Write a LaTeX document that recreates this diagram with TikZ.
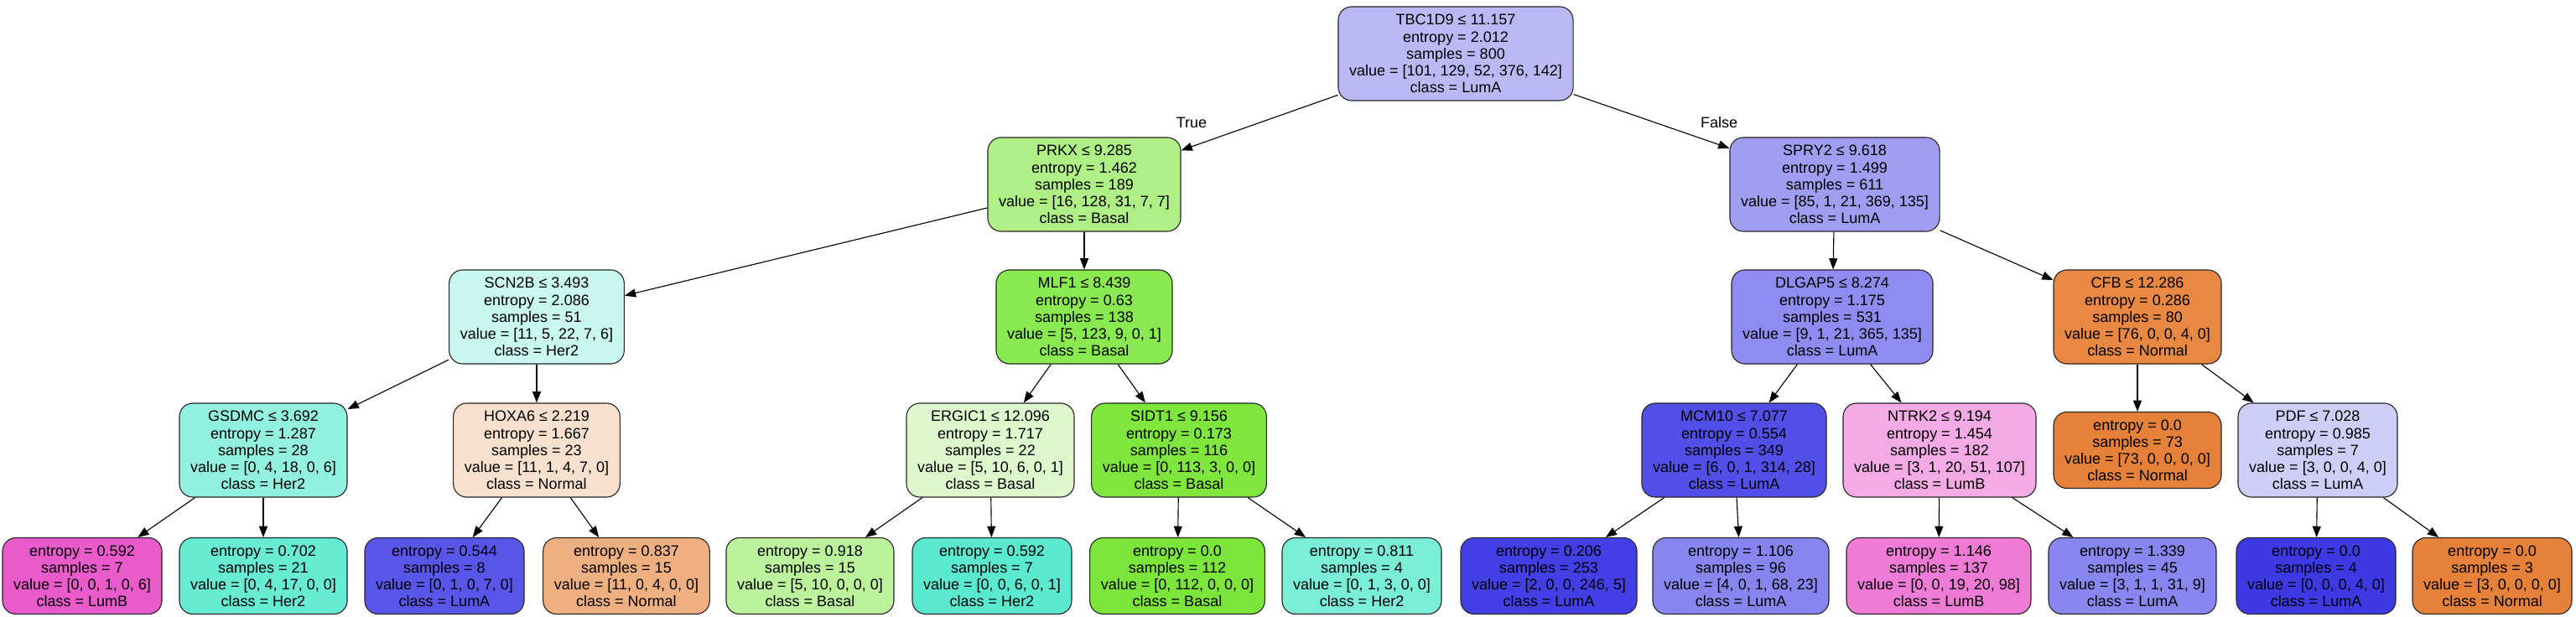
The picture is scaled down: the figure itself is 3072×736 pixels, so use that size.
\documentclass[tikz,border=0pt]{standalone}
\usepackage{fontspec}
\setmainfont{Liberation Sans}
\usetikzlibrary{arrows.meta}

% class colours, faded by purity
\definecolor{rootc}{HTML}{BAB9F6}
\definecolor{prkxc}{HTML}{AEEF86}
\definecolor{spryc}{HTML}{9F9EF2}
\definecolor{scnc}{HTML}{C9F8EF}
\definecolor{mlfc}{HTML}{8AE850}
\definecolor{dlgc}{HTML}{8E8CF0}
\definecolor{cfbc}{HTML}{E88843}
\definecolor{gsdc}{HTML}{93F1DF}
\definecolor{hoxc}{HTML}{F8E0CE}
\definecolor{ergc}{HTML}{DEF8CE}
\definecolor{sidc}{HTML}{7FE63E}
\definecolor{mcmc}{HTML}{514FE8}
\definecolor{ntrc}{HTML}{F4AAE4}
\definecolor{normc}{HTML}{E58139}
\definecolor{pdfc}{HTML}{CECEF8}
\definecolor{lumbc}{HTML}{E95ACB}
\definecolor{hera}{HTML}{68EBD3}
\definecolor{lumaa}{HTML}{5855E9}
\definecolor{norma}{HTML}{EEAF81}
\definecolor{basa}{HTML}{BDF29C}
\definecolor{herb}{HTML}{5AE9CF}
\definecolor{basb}{HTML}{7BE539}
\definecolor{herc}{HTML}{7BEED8}
\definecolor{lumab}{HTML}{423FE6}
\definecolor{lumac}{HTML}{8785EF}
\definecolor{lumbb}{HTML}{EE7BD5}
\definecolor{lumad}{HTML}{8886EF}
\definecolor{lumae}{HTML}{3C39E5}

\tikzstyle{split}=[draw=black!85,line width=.8pt,rounded corners=.4cm,align=center,
  inner xsep=.33cm,minimum height=2.8cm]
\tikzstyle{leaf}=[split,minimum height=2.275cm]
\tikzstyle{branch}=[-{Triangle[length=.33cm,width=.25cm]},line width=.8pt,black]

\begin{document}
\begin{tikzpicture}[x=.025cm, y=-.025cm,font=\fontsize{12.8}{14.3}\selectfont]
	\useasboundingbox (0,0) rectangle (3072,736);

	% splits
	\node[split,fill=rootc] (root) at (1736,64) {TBC1D9 ≤ 11.157\\entropy = 2.012\\samples = 800\\value = [101, 129, 52, 376, 142]\\class = LumA};

	\node[split,fill=prkxc] (prkx) at (1293,220) {PRKX ≤ 9.285\\entropy = 1.462\\samples = 189\\value = [16, 128, 31, 7, 7]\\class = Basal};
	\node[split,fill=spryc] (spry) at (2188,220) {SPRY2 ≤ 9.618\\entropy = 1.499\\samples = 611\\value = [85, 1, 21, 369, 135]\\class = LumA};

	\node[split,fill=scnc] (scn) at (640,378) {SCN2B ≤ 3.493\\entropy = 2.086\\samples = 51\\value = [11, 5, 22, 7, 6]\\class = Her2};
	\node[split,fill=mlfc] (mlf) at (1293,378) {MLF1 ≤ 8.439\\entropy = 0.63\\samples = 138\\value = [5, 123, 9, 0, 1]\\class = Basal};
	\node[split,fill=dlgc] (dlg) at (2185,378) {DLGAP5 ≤ 8.274\\entropy = 1.175\\samples = 531\\value = [9, 1, 21, 365, 135]\\class = LumA};
	\node[split,fill=cfbc] (cfb) at (2549,378) {CFB ≤ 12.286\\entropy = 0.286\\samples = 80\\value = [76, 0, 0, 4, 0]\\class = Normal};

	\node[split,fill=gsdc] (gsd) at (314,537) {GSDMC ≤ 3.692\\entropy = 1.287\\samples = 28\\value = [0, 4, 18, 0, 6]\\class = Her2};
	\node[split,fill=hoxc] (hox) at (640,537) {HOXA6 ≤ 2.219\\entropy = 1.667\\samples = 23\\value = [11, 1, 4, 7, 0]\\class = Normal};
	\node[split,fill=ergc] (erg) at (1181,537) {ERGIC1 ≤ 12.096\\entropy = 1.717\\samples = 22\\value = [5, 10, 6, 0, 1]\\class = Basal};
	\node[split,fill=sidc] (sid) at (1406,537) {SIDT1 ≤ 9.156\\entropy = 0.173\\samples = 116\\value = [0, 113, 3, 0, 0]\\class = Basal};
	\node[split,fill=mcmc] (mcm) at (2068,537) {MCM10 ≤ 7.077\\entropy = 0.554\\samples = 349\\value = [6, 0, 1, 314, 28]\\class = LumA};
	\node[split,fill=ntrc] (ntr) at (2313,537) {NTRK2 ≤ 9.194\\entropy = 1.454\\samples = 182\\value = [3, 1, 20, 51, 107]\\class = LumB};
	\node[leaf,fill=normc] (cfbl) at (2549,537) {entropy = 0.0\\samples = 73\\value = [73, 0, 0, 0, 0]\\class = Normal};
	\node[split,fill=pdfc] (pdf) at (2764,537) {PDF ≤ 7.028\\entropy = 0.985\\samples = 7\\value = [3, 0, 0, 4, 0]\\class = LumA};

	% leaves
	\node[leaf,fill=lumbc] (l1) at (98,687) {entropy = 0.592\\samples = 7\\value = [0, 0, 1, 0, 6]\\class = LumB};
	\node[leaf,fill=hera] (l2) at (314,687) {entropy = 0.702\\samples = 21\\value = [0, 4, 17, 0, 0]\\class = Her2};
	\node[leaf,fill=lumaa] (l3) at (530,687) {entropy = 0.544\\samples = 8\\value = [0, 1, 0, 7, 0]\\class = LumA};
	\node[leaf,fill=norma] (l4) at (747,687) {entropy = 0.837\\samples = 15\\value = [11, 0, 4, 0, 0]\\class = Normal};
	\node[leaf,fill=basa] (l5) at (966,687) {entropy = 0.918\\samples = 15\\value = [5, 10, 0, 0, 0]\\class = Basal};
	\node[leaf,fill=herb] (l6) at (1183,687) {entropy = 0.592\\samples = 7\\value = [0, 0, 6, 0, 1]\\class = Her2};
	\node[leaf,fill=basb] (l7) at (1404,687) {entropy = 0.0\\samples = 112\\value = [0, 112, 0, 0, 0]\\class = Basal};
	\node[leaf,fill=herc] (l8) at (1624,687) {entropy = 0.811\\samples = 4\\value = [0, 1, 3, 0, 0]\\class = Her2};
	\node[leaf,fill=lumab] (l9) at (1847,687) {entropy = 0.206\\samples = 253\\value = [2, 0, 0, 246, 5]\\class = LumA};
	\node[leaf,fill=lumac] (l10) at (2076,687) {entropy = 1.106\\samples = 96\\value = [4, 0, 1, 68, 23]\\class = LumA};
	\node[leaf,fill=lumbb] (l11) at (2312,687) {entropy = 1.146\\samples = 137\\value = [0, 0, 19, 20, 98]\\class = LumB};
	\node[leaf,fill=lumad] (l12) at (2543,687) {entropy = 1.339\\samples = 45\\value = [3, 1, 1, 31, 9]\\class = LumA};
	\node[leaf,fill=lumae] (l13) at (2762,687) {entropy = 0.0\\samples = 4\\value = [0, 0, 0, 4, 0]\\class = LumA};
	\node[leaf,fill=normc] (l14) at (2972,687) {entropy = 0.0\\samples = 3\\value = [3, 0, 0, 0, 0]\\class = Normal};

	% edges
	\draw[branch] (root) -- (prkx);
	\draw[branch] (root) -- (spry);
	\node (truel) at (1421,146) {True};
	\node (falsel) at (2050,146) {False};
	\draw[branch] (prkx) -- (scn);
	\draw[branch] (prkx) -- (mlf);
	\draw[branch] (spry) -- (dlg);
	\draw[branch] (spry) -- (cfb);
	\draw[branch] (scn) -- (gsd);
	\draw[branch] (scn) -- (hox);
	\draw[branch] (mlf) -- (erg);
	\draw[branch] (mlf) -- (sid);
	\draw[branch] (dlg) -- (mcm);
	\draw[branch] (dlg) -- (ntr);
	\draw[branch] (cfb) -- (cfbl);
	\draw[branch] (cfb) -- (pdf);
	\draw[branch] (gsd) -- (l1);
	\draw[branch] (gsd) -- (l2);
	\draw[branch] (hox) -- (l3);
	\draw[branch] (hox) -- (l4);
	\draw[branch] (erg) -- (l5);
	\draw[branch] (erg) -- (l6);
	\draw[branch] (sid) -- (l7);
	\draw[branch] (sid) -- (l8);
	\draw[branch] (mcm) -- (l9);
	\draw[branch] (mcm) -- (l10);
	\draw[branch] (ntr) -- (l11);
	\draw[branch] (ntr) -- (l12);
	\draw[branch] (pdf) -- (l13);
	\draw[branch] (pdf) -- (l14);
\end{tikzpicture}
\end{document}
